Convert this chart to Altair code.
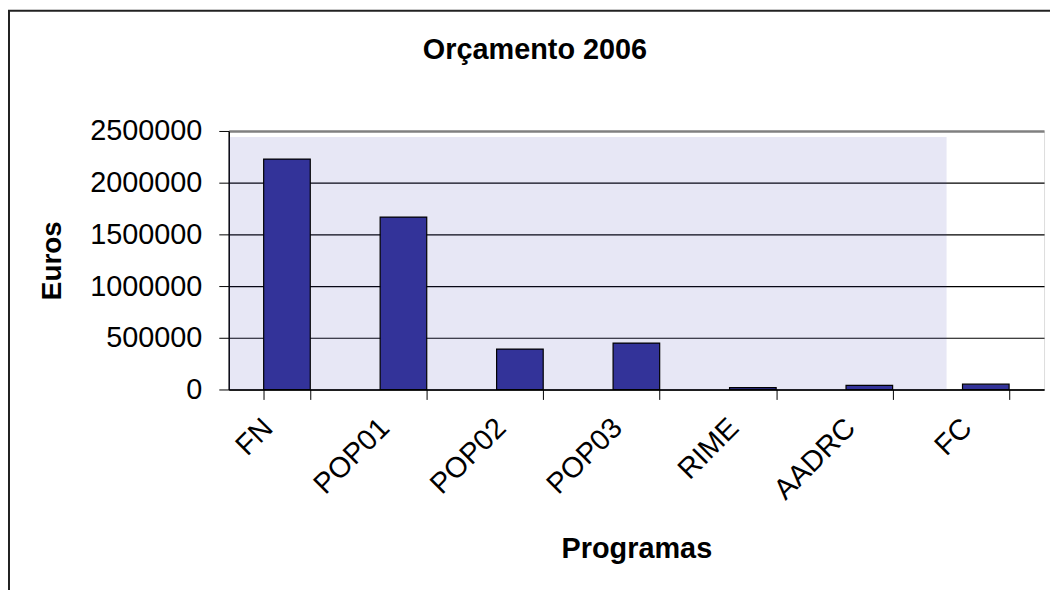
import altair as alt
import pandas as pd

title_text = "Orçamento 2006"
categories = ["FN", "POP01", "POP02", "POP03", "RIME", "AADRC", "FC"]
values = [2228000, 1667000, 391000, 449000, 18000, 40000, 51000]
y_ticks = [0, 500000, 1000000, 1500000, 2000000, 2500000]

df = pd.DataFrame({"Programa": categories, "Euros": values})
one = pd.DataFrame({"t": [title_text]})

FONT = "Liberation Sans"

x_enc = alt.X(
    "Programa:N",
    sort=categories,
    scale=alt.Scale(paddingInner=0.6, paddingOuter=0.3),
    axis=alt.Axis(
        title="Programas",
        labelAngle=-45,
        labelAlign="right",
        labelBaseline="alphabetic",
        labelPadding=30,
        labelOffset=-13,
        labelFontSize=29,
        labelFont=FONT,
        labelColor="black",
        tickBand="extent",
        tickSize=10,
        tickColor="black",
        domainColor="black",
        domainWidth=1.5,
        titleFont=FONT,
        titleFontSize=29,
        titleFontWeight="bold",
        titleColor="black",
        titleBaseline="alphabetic",
        titleX=410,
        titleY=169,
    ),
)

y_enc = alt.Y(
    "Euros:Q",
    scale=alt.Scale(domain=[0, 2500000], nice=False),
    axis=alt.Axis(
        title="Euros",
        values=y_ticks,
        format="d",
        labelFontSize=29,
        labelFont=FONT,
        labelColor="black",
        labelPadding=17,
        labelBaseline="middle",
        tickSize=10,
        tickColor="black",
        domainColor="black",
        domainWidth=1.5,
        grid=True,
        gridColor=alt.condition("datum.value >= 2500000", alt.value("#808080"), alt.value("black")),
        gridWidth=alt.condition("datum.value >= 2500000", alt.value(2.5), alt.value(1.2)),
        titleFont=FONT,
        titleFontSize=28,
        titleFontWeight="bold",
        titleColor="black",
        titleBaseline="alphabetic",
        titleAngle=270,
        titleX=-169,
        titleY=130,
    ),
)

pattern = alt.Chart(one).mark_rect(color="#3a3ab0", opacity=0.12).encode(
    x=alt.value(0), x2=alt.value(722), y=alt.value(6), y2=alt.value(260)
)

frame_left = alt.Chart(one).mark_rule(color="#222222", strokeWidth=2).encode(
    x=alt.value(-221), y=alt.value(-121), y2=alt.value(700)
)
frame_top = alt.Chart(one).mark_rule(color="#222222", strokeWidth=2).encode(
    x=alt.value(-222), x2=alt.value(1100), y=alt.value(-121)
)

title = alt.Chart(one).mark_text(
    font=FONT, fontSize=29, fontWeight="bold", color="black",
    align="center", baseline="alphabetic",
).encode(text="t:N", x=alt.value(308), y=alt.value(-72))

bars = alt.Chart(df).mark_bar(color="#333399", stroke="black", strokeWidth=1.2).encode(
    x=x_enc, y=y_enc
)

chart = alt.layer(frame_left, frame_top, pattern, bars, title).properties(
    width=820,
    height=260,
    autosize=alt.AutoSizeParams(type="none"),
    padding={"left": 222, "top": 122, "right": 6, "bottom": 200},
).configure_view(stroke="#808080", strokeWidth=2.5).configure(background="white")

chart.save("out.html", embed_options={"renderer": "svg", "actions": False})
